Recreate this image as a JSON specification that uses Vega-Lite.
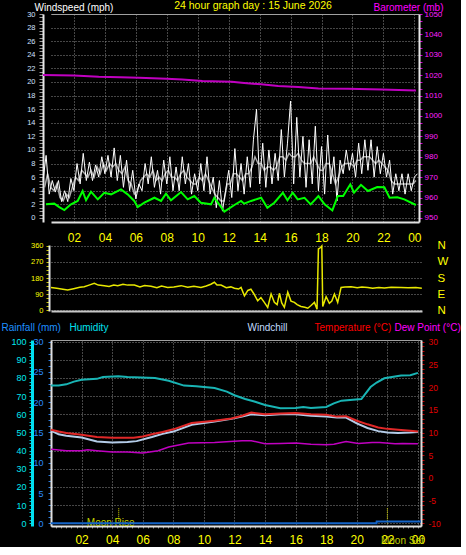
{
  "$schema": "https://vega.github.io/schema/vega-lite/v6.json",
  "background": "#000000",
  "padding": {"left": 0, "top": 0, "right": 0, "bottom": 0},
  "datasets": {
    "gust": [
      {"h":0,"v":5.5},{"h":0.2,"v":9.2},{"h":0.4,"v":3.5},{"h":0.6,"v":5.5},{"h":0.8,"v":3.8},{"h":1.0,"v":5.5},{"h":1.2,"v":2.4},{"h":1.4,"v":4.0},{"h":1.6,"v":2.4},{"h":1.8,"v":5.8},
      {"h":2.0,"v":4.0},{"h":2.2,"v":8.0},{"h":2.4,"v":5.0},{"h":2.6,"v":9.5},{"h":2.8,"v":5.5},{"h":3.0,"v":8.2},{"h":3.2,"v":5.5},{"h":3.4,"v":7.8},{"h":3.6,"v":6.0},{"h":3.8,"v":9.0},
      {"h":4.0,"v":6.5},{"h":4.2,"v":9.2},{"h":4.4,"v":6.0},{"h":4.6,"v":10.3},{"h":4.8,"v":5.5},{"h":5.0,"v":9.2},{"h":5.2,"v":4.5},{"h":5.4,"v":8.5},{"h":5.6,"v":4.0},{"h":5.8,"v":7.0},
      {"h":6.0,"v":2.8},{"h":6.2,"v":5.0},{"h":6.4,"v":4.0},{"h":6.6,"v":8.0},{"h":6.8,"v":5.0},{"h":7.0,"v":9.0},{"h":7.2,"v":4.5},{"h":7.4,"v":7.0},{"h":7.6,"v":3.5},{"h":7.8,"v":8.5},
      {"h":8.0,"v":5.0},{"h":8.2,"v":9.0},{"h":8.4,"v":4.0},{"h":8.6,"v":7.5},{"h":8.8,"v":4.0},{"h":9.0,"v":9.0},{"h":9.2,"v":5.0},{"h":9.4,"v":8.0},{"h":9.6,"v":3.5},{"h":9.8,"v":6.5},
      {"h":10.0,"v":4.0},{"h":10.2,"v":8.0},{"h":10.4,"v":4.0},{"h":10.6,"v":9.0},{"h":10.8,"v":3.5},{"h":11.0,"v":6.0},{"h":11.2,"v":1.5},{"h":11.4,"v":5.5},{"h":11.6,"v":1.0},{"h":11.8,"v":4.0},
      {"h":12.0,"v":7.0},{"h":12.2,"v":3.0},{"h":12.4,"v":10.2},{"h":12.6,"v":4.0},{"h":12.8,"v":8.0},{"h":13.0,"v":3.5},{"h":13.2,"v":9.0},{"h":13.4,"v":4.5},{"h":13.6,"v":11.5},{"h":13.8,"v":16.0},
      {"h":14.0,"v":5.0},{"h":14.2,"v":11.0},{"h":14.4,"v":4.5},{"h":14.6,"v":10.0},{"h":14.8,"v":5.0},{"h":15.0,"v":9.5},{"h":15.2,"v":5.5},{"h":15.4,"v":13.0},{"h":15.6,"v":6.0},{"h":15.8,"v":11.0},
      {"h":16.0,"v":17.2},{"h":16.2,"v":5.0},{"h":16.4,"v":14.8},{"h":16.6,"v":6.0},{"h":16.8,"v":12.0},{"h":17.0,"v":4.5},{"h":17.2,"v":11.5},{"h":17.4,"v":5.0},{"h":17.6,"v":13.5},{"h":17.8,"v":4.0},
      {"h":18.0,"v":10.5},{"h":18.2,"v":3.5},{"h":18.4,"v":12.2},{"h":18.6,"v":5.0},{"h":18.8,"v":9.0},{"h":19.0,"v":2.5},{"h":19.2,"v":8.5},{"h":19.4,"v":6.5},{"h":19.6,"v":10.0},{"h":19.8,"v":7.0},
      {"h":20.0,"v":9.5},{"h":20.2,"v":6.0},{"h":20.4,"v":11.0},{"h":20.6,"v":6.5},{"h":20.8,"v":11.5},{"h":21.0,"v":7.0},{"h":21.2,"v":11.5},{"h":21.4,"v":6.0},{"h":21.6,"v":10.5},{"h":21.8,"v":6.5},
      {"h":22.0,"v":9.5},{"h":22.2,"v":6.0},{"h":22.4,"v":8.5},{"h":22.6,"v":3.5},{"h":22.8,"v":6.5},{"h":23.0,"v":4.0},{"h":23.2,"v":6.5},{"h":23.4,"v":3.5},{"h":23.6,"v":6.5},{"h":23.8,"v":4.0},
      {"h":24.0,"v":6.0},{"h":24.2,"v":6.5}
    ],
    "speed": [
      {"h":0.1,"v":4.5},{"h":0.3,"v":6.5},{"h":0.5,"v":4.5},{"h":0.7,"v":4.0},{"h":0.9,"v":5.0},{"h":1.1,"v":3.0},{"h":1.3,"v":2.5},{"h":1.5,"v":3.5},{"h":1.7,"v":3.0},{"h":1.9,"v":4.5},
      {"h":2.1,"v":6.0},{"h":2.3,"v":5.5},{"h":2.5,"v":7.0},{"h":2.7,"v":6.5},{"h":2.9,"v":6.0},{"h":3.1,"v":7.0},{"h":3.3,"v":6.0},{"h":3.5,"v":7.5},{"h":3.7,"v":6.5},{"h":3.9,"v":8.0},
      {"h":4.1,"v":7.0},{"h":4.3,"v":8.0},{"h":4.5,"v":7.5},{"h":4.7,"v":8.0},{"h":4.9,"v":7.0},{"h":5.1,"v":6.5},{"h":5.3,"v":7.5},{"h":5.5,"v":5.5},{"h":5.7,"v":5.0},{"h":5.9,"v":3.5},
      {"h":6.1,"v":4.0},{"h":6.3,"v":5.5},{"h":6.5,"v":6.0},{"h":6.7,"v":6.5},{"h":6.9,"v":6.0},{"h":7.1,"v":7.0},{"h":7.3,"v":5.5},{"h":7.5,"v":6.0},{"h":7.7,"v":5.5},{"h":7.9,"v":6.5},
      {"h":8.1,"v":7.0},{"h":8.3,"v":6.0},{"h":8.5,"v":6.0},{"h":8.7,"v":5.5},{"h":8.9,"v":6.5},{"h":9.1,"v":7.0},{"h":9.3,"v":6.0},{"h":9.5,"v":5.5},{"h":9.7,"v":5.0},{"h":9.9,"v":5.0},
      {"h":10.1,"v":6.0},{"h":10.3,"v":5.5},{"h":10.5,"v":6.5},{"h":10.7,"v":5.5},{"h":10.9,"v":4.5},{"h":11.1,"v":3.5},{"h":11.3,"v":3.0},{"h":11.5,"v":2.5},{"h":11.7,"v":2.5},{"h":11.9,"v":5.0},
      {"h":12.1,"v":5.0},{"h":12.3,"v":6.5},{"h":12.5,"v":6.5},{"h":12.7,"v":6.0},{"h":12.9,"v":5.5},{"h":13.1,"v":6.5},{"h":13.3,"v":6.5},{"h":13.5,"v":7.5},{"h":13.7,"v":9.0},{"h":13.9,"v":8.0},
      {"h":14.1,"v":8.0},{"h":14.3,"v":7.0},{"h":14.5,"v":7.5},{"h":14.7,"v":7.5},{"h":14.9,"v":7.0},{"h":15.1,"v":7.5},{"h":15.3,"v":9.0},{"h":15.5,"v":9.0},{"h":15.7,"v":8.5},{"h":15.9,"v":9.5},
      {"h":16.1,"v":9.0},{"h":16.3,"v":9.0},{"h":16.5,"v":9.5},{"h":16.7,"v":8.5},{"h":16.9,"v":8.0},{"h":17.1,"v":8.0},{"h":17.3,"v":8.0},{"h":17.5,"v":9.0},{"h":17.7,"v":8.0},{"h":17.9,"v":7.0},
      {"h":18.1,"v":7.0},{"h":18.3,"v":8.0},{"h":18.5,"v":8.0},{"h":18.7,"v":6.5},{"h":18.9,"v":5.0},{"h":19.1,"v":6.0},{"h":19.3,"v":7.5},{"h":19.5,"v":8.0},{"h":19.7,"v":8.0},{"h":19.9,"v":8.0},
      {"h":20.1,"v":7.5},{"h":20.3,"v":8.5},{"h":20.5,"v":8.5},{"h":20.7,"v":9.0},{"h":20.9,"v":9.0},{"h":21.1,"v":9.0},{"h":21.3,"v":8.5},{"h":21.5,"v":8.0},{"h":21.7,"v":8.5},{"h":21.9,"v":8.0},
      {"h":22.1,"v":7.5},{"h":22.3,"v":7.0},{"h":22.5,"v":5.5},{"h":22.7,"v":5.0},{"h":22.9,"v":5.0},{"h":23.1,"v":5.0},{"h":23.3,"v":5.0},{"h":23.5,"v":5.0},{"h":23.7,"v":5.0},{"h":23.9,"v":5.0},{"h":24.1,"v":5.5}
    ],
    "avg": [
      {"h":0.19,"v":2.0},{"h":0.73,"v":2.1},{"h":1.05,"v":1.6},{"h":1.38,"v":1.16},{"h":1.81,"v":2.0},{"h":2.24,"v":2.5},{"h":2.56,"v":3.96},{"h":2.78,"v":2.6},{"h":3.1,"v":3.86},{"h":3.54,"v":2.73},
      {"h":3.96,"v":3.7},{"h":4.4,"v":3.47},{"h":5.04,"v":4.2},{"h":5.47,"v":3.47},{"h":5.9,"v":2.5},{"h":6.12,"v":1.6},{"h":6.55,"v":2.24},{"h":7.2,"v":2.97},{"h":7.63,"v":2.5},{"h":7.95,"v":3.56},
      {"h":8.27,"v":2.6},{"h":8.92,"v":3.8},{"h":9.35,"v":2.73},{"h":9.78,"v":3.22},{"h":10.2,"v":2.24},{"h":10.86,"v":2.0},{"h":11.07,"v":2.97},{"h":11.72,"v":0.92},{"h":12.37,"v":1.9},{"h":12.8,"v":2.5},
      {"h":13.0,"v":2.1},{"h":13.45,"v":2.5},{"h":14.1,"v":2.97},{"h":14.5,"v":1.5},{"h":14.95,"v":2.24},{"h":15.5,"v":3.7},{"h":15.8,"v":2.6},{"h":16.14,"v":3.7},{"h":16.46,"v":2.73},{"h":16.9,"v":2.97},
      {"h":17.3,"v":2.0},{"h":17.8,"v":3.22},{"h":18.2,"v":2.0},{"h":18.7,"v":1.1},{"h":19.05,"v":3.22},{"h":19.4,"v":3.22},{"h":19.86,"v":4.94},{"h":20.1,"v":3.7},{"h":20.55,"v":4.87},{"h":21.0,"v":3.96},
      {"h":21.6,"v":4.55},{"h":22.06,"v":4.5},{"h":22.4,"v":2.97},{"h":22.9,"v":3.05},{"h":23.35,"v":2.73},{"h":24.1,"v":1.9}
    ],
    "baro": [
      {"h":0,"p":1020.1},{"h":1,"p":1020.0},{"h":2,"p":1019.8},{"h":3.6,"p":1019.2},{"h":5,"p":1019.0},{"h":6.2,"p":1018.7},{"h":8,"p":1018.3},{"h":9,"p":1017.9},{"h":10.3,"p":1017.1},{"h":12.2,"p":1016.8},
      {"h":13,"p":1016.2},{"h":14.1,"p":1015.5},{"h":15.2,"p":1014.7},{"h":16.5,"p":1014.2},{"h":17.8,"p":1013.5},{"h":19.7,"p":1013.3},{"h":21.9,"p":1013.0},{"h":24.1,"p":1012.5}
    ],
    "dir": [
      {"h":0.13,"d":127},{"h":0.5,"d":122},{"h":0.8,"d":118},{"h":1.21,"d":112},{"h":1.6,"d":120},{"h":2.0,"d":128},{"h":2.29,"d":131},{"h":2.6,"d":140},{"h":2.94,"d":150},{"h":3.2,"d":140},
      {"h":3.59,"d":137},{"h":3.9,"d":132},{"h":4.2,"d":140},{"h":4.46,"d":137},{"h":4.8,"d":145},{"h":5.1,"d":140},{"h":5.54,"d":141},{"h":5.9,"d":130},{"h":6.2,"d":138},{"h":6.62,"d":133},
      {"h":7.0,"d":125},{"h":7.3,"d":135},{"h":7.7,"d":127},{"h":8.1,"d":130},{"h":8.57,"d":137},{"h":9.0,"d":128},{"h":9.4,"d":133},{"h":9.86,"d":127},{"h":10.2,"d":135},{"h":10.5,"d":145},
      {"h":10.73,"d":156},{"h":10.9,"d":140},{"h":11.16,"d":140},{"h":11.5,"d":125},{"h":11.8,"d":130},{"h":12.03,"d":122},{"h":12.3,"d":118},{"h":12.46,"d":127},{"h":12.68,"d":80},{"h":12.9,"d":110},
      {"h":13.1,"d":117},{"h":13.3,"d":90},{"h":13.54,"d":52},{"h":13.75,"d":70},{"h":13.97,"d":43},{"h":14.19,"d":15},{"h":14.41,"d":90},{"h":14.62,"d":43},{"h":14.8,"d":30},{"h":14.95,"d":94},
      {"h":15.1,"d":40},{"h":15.27,"d":15},{"h":15.49,"d":100},{"h":15.7,"d":50},{"h":15.92,"d":43},{"h":16.1,"d":30},{"h":16.35,"d":20},{"h":16.6,"d":15},{"h":16.79,"d":10},{"h":17.0,"d":25},
      {"h":17.22,"d":43},{"h":17.39,"d":5},{"h":17.48,"d":343},{"h":17.6,"d":350},{"h":17.7,"d":360},{"h":17.76,"d":20},{"h":17.98,"d":75},{"h":18.19,"d":38},{"h":18.35,"d":50},{"h":18.52,"d":90},
      {"h":18.73,"d":43},{"h":18.95,"d":127},{"h":19.2,"d":130},{"h":19.6,"d":131},{"h":20.0,"d":125},{"h":20.3,"d":130},{"h":20.68,"d":127},{"h":21.0,"d":122},{"h":21.4,"d":126},{"h":21.76,"d":124},
      {"h":22.2,"d":128},{"h":22.84,"d":127},{"h":23.3,"d":125},{"h":23.8,"d":126},{"h":24.19,"d":122}
    ],
    "hum": [
      {"h":0,"v":75.8},{"h":0.5,"v":75.8},{"h":1.0,"v":76.5},{"h":1.5,"v":78},{"h":2.0,"v":79},{"h":3.0,"v":79.5},{"h":3.4,"v":80.5},{"h":4.4,"v":81},{"h":5.0,"v":80.5},{"h":6.8,"v":80},
      {"h":7.7,"v":78.5},{"h":8.7,"v":75.8},{"h":9.5,"v":75.5},{"h":10.7,"v":74.5},{"h":11.5,"v":72.5},{"h":12.0,"v":70.5},{"h":12.7,"v":68.4},{"h":13.3,"v":67},{"h":14.0,"v":65.1},{"h":15.0,"v":63.3},
      {"h":16.0,"v":63.5},{"h":16.5,"v":64},{"h":17.0,"v":63.5},{"h":18.0,"v":64},{"h":18.5,"v":66},{"h":19.0,"v":67.5},{"h":20.3,"v":68.4},{"h":20.9,"v":75},{"h":21.3,"v":77.5},{"h":21.8,"v":79.8},
      {"h":22.9,"v":81.3},{"h":23.5,"v":81.5},{"h":24.0,"v":82.8}
    ],
    "temp": [
      {"h":0,"v":10.6},{"h":0.5,"v":10.2},{"h":1.0,"v":9.9},{"h":2.0,"v":9.5},{"h":3.0,"v":9.0},{"h":4.0,"v":8.85},{"h":5.4,"v":8.85},{"h":6.0,"v":9.1},{"h":6.6,"v":9.6},{"h":7.3,"v":10.1},
      {"h":8.0,"v":10.7},{"h":9.2,"v":12.1},{"h":10.7,"v":12.6},{"h":11.8,"v":13.1},{"h":12.5,"v":13.7},{"h":13.1,"v":14.4},{"h":14.0,"v":14.0},{"h":15.0,"v":14.2},{"h":16.0,"v":14.3},{"h":17.0,"v":14.0},
      {"h":18.0,"v":13.9},{"h":18.7,"v":13.5},{"h":19.3,"v":13.6},{"h":20.0,"v":12.6},{"h":20.7,"v":11.8},{"h":21.4,"v":11.1},{"h":22.0,"v":10.8},{"h":22.7,"v":10.6},{"h":23.5,"v":10.4},{"h":24.0,"v":10.2}
    ],
    "chill": [
      {"h":0,"v":10.4},{"h":0.5,"v":9.6},{"h":1.0,"v":9.3},{"h":2.0,"v":8.9},{"h":3.0,"v":8.0},{"h":4.0,"v":7.8},{"h":5.0,"v":7.9},{"h":5.6,"v":8.1},{"h":6.6,"v":9.0},{"h":7.3,"v":9.7},
      {"h":8.0,"v":10.2},{"h":9.2,"v":11.7},{"h":10.7,"v":12.4},{"h":11.8,"v":13.0},{"h":12.5,"v":13.5},{"h":13.1,"v":14.0},{"h":14.0,"v":13.8},{"h":15.0,"v":14.0},{"h":16.0,"v":14.0},{"h":17.0,"v":13.7},
      {"h":18.0,"v":13.5},{"h":18.7,"v":13.3},{"h":19.3,"v":13.3},{"h":20.0,"v":12.0},{"h":20.7,"v":11.0},{"h":21.4,"v":10.3},{"h":22.0,"v":10.0},{"h":22.7,"v":9.9},{"h":23.5,"v":10.0},{"h":24.0,"v":10.1}
    ],
    "dew": [
      {"h":0,"v":6.3},{"h":1.0,"v":6.0},{"h":2.0,"v":6.0},{"h":2.4,"v":6.2},{"h":3.0,"v":6.0},{"h":4.0,"v":5.7},{"h":5.0,"v":5.7},{"h":6.0,"v":5.5},{"h":7.0,"v":6.0},{"h":7.7,"v":6.8},
      {"h":9.0,"v":7.7},{"h":10.7,"v":7.8},{"h":12.5,"v":8.2},{"h":13.1,"v":8.2},{"h":14.0,"v":7.5},{"h":15.0,"v":7.6},{"h":16.0,"v":7.7},{"h":17.0,"v":7.4},{"h":18.0,"v":7.3},{"h":18.5,"v":7.4},
      {"h":19.3,"v":8.0},{"h":20.1,"v":7.6},{"h":21.0,"v":7.8},{"h":21.5,"v":7.8},{"h":22.5,"v":7.5},{"h":23.0,"v":7.6},{"h":24.0,"v":7.5}
    ],
    "rain": [
      {"h":0,"v":0},{"h":21.29,"v":0},{"h":21.3,"v":0.3},{"h":24.2,"v":0.3}
    ],
    "moon": [
      {"event":"Moon Rise","h":4.43},
      {"event":"Moon Set","h":22.0}
    ]
  },
  "concat": [
    {
      "width": 368,
      "height": 208,
      "view": {"stroke": null},
      "title": {"text": "24 hour graph day : 15 June 2026", "color": "#ffff00", "fontSize": 10.5, "font": "Liberation Sans", "fontWeight": "normal", "anchor": "middle", "dx": 18, "offset": -9},
      "layer": [
        {
          "layer": [
            {
              "data": {"name": "speed"},
              "mark": {"type": "line", "color": "#a8a8a8", "strokeWidth": 1.5},
              "encoding": {
                "x": {"field": "h", "type": "quantitative", "scale": {"domain": [0.517, 24.3], "nice": false, "zero": false},
                  "axis": {"values": [2,4,6,8,10,12,14,16,18,20,22,24], "tickCount": 100, "labelExpr": "datum.value == 24 ? '00' : (datum.value < 10 ? '0' + datum.value : '' + datum.value)", "labelColor": "#ffff00", "labelFontSize": 12, "ticks": false, "labelPadding": 10, "grid": true, "title": null, "domainColor": "#e0e0e0", "domainWidth": 2}},
                "y": {"field": "v", "type": "quantitative", "scale": {"domain": [-0.6, 30], "nice": false, "zero": false},
                  "axis": {"offset": 8, "values": [0,0.5,1,1.5,2,2.5,3,3.5,4,4.5,5,5.5,6,6.5,7,7.5,8,8.5,9,9.5,10,10.5,11,11.5,12,12.5,13,13.5,14,14.5,15,15.5,16,16.5,17,17.5,18,18.5,19,19.5,20,20.5,21,21.5,22,22.5,23,23.5,24,24.5,25,25.5,26,26.5,27,27.5,28,28.5,29,29.5,30], "tickCount": 100,
                    "labelExpr": "datum.value % 2 == 0 ? '' + datum.value : ''", "gridOpacity": {"condition": {"test": "datum.value % 2 == 0", "value": 1}, "value": 0},
                    "labelFontSize": 7.5, "labelColor": "#d0e0ff", "tickColor": "#9a9a9a", "tickSize": 4, "labelPadding": 4, "grid": true, "domainColor": "#e8e8e8", "domainWidth": 2,
                    "title": "Windspeed (mph)", "titleColor": "#ffffff", "titleFontSize": 10, "titleAngle": 0, "titleAlign": "left", "titleBaseline": "alphabetic", "titleX": -9, "titleY": -4}}
              }
            },
            {
              "data": {"name": "gust"},
              "mark": {"type": "line", "color": "#ffffff", "strokeWidth": 1},
              "encoding": {"x": {"field": "h", "type": "quantitative"}, "y": {"field": "v", "type": "quantitative"}}
            },
            {
              "data": {"name": "avg"},
              "mark": {"type": "line", "color": "#00ff00", "strokeWidth": 2},
              "encoding": {"x": {"field": "h", "type": "quantitative"}, "y": {"field": "v", "type": "quantitative"}}
            }
          ]
        },
        {
          "data": {"name": "baro"},
          "mark": {"type": "line", "color": "#c000c0", "strokeWidth": 2},
          "encoding": {
            "x": {"field": "h", "type": "quantitative", "scale": {"domain": [0.517, 24.3], "nice": false, "zero": false},
              "axis": {"orient": "top", "labels": false, "ticks": false, "grid": false, "title": null, "domainColor": "#a0a0a0", "domainWidth": 1, "minExtent": 0, "maxExtent": 0}},
            "y": {"field": "p", "type": "quantitative", "scale": {"domain": [948, 1050], "nice": false, "zero": false},
              "axis": {"orient": "right", "values": [950,953.33,956.67,960,963.33,966.67,970,973.33,976.67,980,983.33,986.67,990,993.33,996.67,1000,1003.33,1006.67,1010,1013.33,1016.67,1020,1023.33,1026.67,1030,1033.33,1036.67,1040,1043.33,1046.67,1050], "tickCount": 100,
                "labelExpr": "abs(datum.value - round(datum.value / 10) * 10) < 0.1 ? format(datum.value, 'd') : ''",
                "labelFontSize": 8, "labelColor": "#ff20ff", "tickColor": "#d000d0", "tickSize": 3, "labelPadding": 2, "grid": false, "domainColor": "#e8e8e8", "domainWidth": 2,
                "title": "Barometer (mb)", "titleColor": "#ff00ff", "titleFontSize": 10, "titleAngle": 0, "titleAlign": "left", "titleBaseline": "alphabetic", "titleX": -46, "titleY": -4}}
          }
        }
      ],
      "resolve": {"scale": {"y": "independent", "x": "independent"}}
    },
    {
      "concat": [
        {
          "width": 371,
          "height": 66,
          "view": {"stroke": null},
          "data": {"name": "dir"},
          "layer": [
            {
              "mark": {"type": "line", "color": "#e8e800", "strokeWidth": 1.5},
              "encoding": {
                "x": {"field": "h", "type": "quantitative", "scale": {"domain": [0.13, 24.2], "nice": false, "zero": false},
                  "axis": {"labels": false, "ticks": false, "grid": false, "title": null, "domainColor": "#c8c8c8", "domainWidth": 2}},
                "y": {"field": "d", "type": "quantitative", "scale": {"domain": [-5.6, 365.6], "nice": false, "zero": false},
                  "axis": {"orient": "left", "offset": 2, "values": [0,22.5,45,67.5,90,112.5,135,157.5,180,202.5,225,247.5,270,292.5,315,337.5,360], "tickCount": 100,
                    "labelExpr": "datum.value % 90 == 0 ? '' + datum.value : ''", "gridOpacity": {"condition": {"test": "datum.value % 90 == 0", "value": 1}, "value": 0},
                    "labelFontSize": 7.5, "labelColor": "#ffff00", "tickColor": "#c8c800", "tickSize": 3, "labelPadding": 3, "grid": true, "domainColor": "#e8e8e8", "domainWidth": 2, "title": null}}
              }
            },
            {
              "mark": {"type": "line", "opacity": 0},
              "encoding": {
                "x": {"field": "h", "type": "quantitative"},
                "y": {"field": "d", "type": "quantitative", "scale": {"domain": [-5.6, 365.6], "nice": false, "zero": false},
                  "axis": {"orient": "right", "values": [0,90,180,270,360], "tickCount": 100, "labelExpr": "datum.value == 90 ? 'E' : (datum.value == 180 ? 'S' : (datum.value == 270 ? 'W' : 'N'))", "labelFontSize": 11.5, "labelColor": "#ffff00", "ticks": false, "domain": false, "grid": false, "labelPadding": 15, "title": null}}
              }
            }
          ],
          "resolve": {"scale": {"y": "independent"}}
        },
        {
          "width": 370,
          "height": 186,
          "layer": [
            {
              "layer": [
                {
                  "data": {"name": "hum"},
                  "mark": {"type": "line", "color": "#19b4b4", "strokeWidth": 2},
                  "encoding": {
                    "x": {"field": "h", "type": "quantitative", "scale": {"domain": [0, 24.2], "nice": false, "zero": false},
                      "axis": {"values": [0.33,0.67,1,1.33,1.67,2,2.33,2.67,3,3.33,3.67,4,4.33,4.67,5,5.33,5.67,6,6.33,6.67,7,7.33,7.67,8,8.33,8.67,9,9.33,9.67,10,10.33,10.67,11,11.33,11.67,12,12.33,12.67,13,13.33,13.67,14,14.33,14.67,15,15.33,15.67,16,16.33,16.67,17,17.33,17.67,18,18.33,18.67,19,19.33,19.67,20,20.33,20.67,21,21.33,21.67,22,22.33,22.67,23,23.33,23.67,24], "tickCount": 100,
                        "labelExpr": "datum.value % 2 == 0 ? (datum.value == 24 ? '00' : (datum.value < 10 ? '0' + datum.value : '' + datum.value)) : ''",
                        "gridOpacity": {"condition": {"test": "datum.value % 2 == 0", "value": 1}, "value": 0},
                        "labelColor": "#ffff00", "labelFontSize": 12, "ticks": true, "tickSize": 2, "tickColor": "#8a8a8a", "labelPadding": 6, "grid": true, "title": null, "domainColor": "#e0e0e0", "domainWidth": 2}},
                    "y": {"field": "v", "type": "quantitative", "scale": {"domain": [-1.5, 100.9], "nice": false, "zero": false},
                      "axis": {"orient": "left", "offset": 19, "values": [0,2,4,6,8,10,12,14,16,18,20,22,24,26,28,30,32,34,36,38,40,42,44,46,48,50,52,54,56,58,60,62,64,66,68,70,72,74,76,78,80,82,84,86,88,90,92,94,96,98,100], "tickCount": 100,
                        "labelExpr": "datum.value % 10 == 0 ? '' + datum.value : ''", "gridOpacity": {"condition": {"test": "datum.value % 10 == 0", "value": 1}, "value": 0},
                        "labelFontSize": 9, "labelColor": "#00e8f0", "tickColor": "#00c8d0", "tickSize": 3, "labelPadding": 3, "grid": true, "domainColor": "#00e0f0", "domainWidth": 3,
                        "title": "Humidity", "titleColor": "#00e0f0", "titleFontSize": 10, "titleAngle": 0, "titleAlign": "left", "titleBaseline": "alphabetic", "titleX": 37, "titleY": -10}}
                  }
                },
                {
                  "data": {"name": "moon"},
                  "mark": {"type": "rule", "color": "#e0e000", "strokeDash": [1, 1], "strokeWidth": 1},
                  "encoding": {"x": {"field": "h", "type": "quantitative"}, "y": {"datum": 0}, "y2": {"datum": 8.5}}
                },
                {
                  "data": {"name": "moon"},
                  "transform": [{"filter": "datum.event == 'Moon Rise'"}],
                  "mark": {"type": "text", "color": "#c0d000", "fontSize": 10, "font": "Liberation Sans", "baseline": "middle", "align": "center", "dx": -8},
                  "encoding": {"x": {"field": "h", "type": "quantitative"}, "y": {"datum": 0.4}, "text": {"field": "event"}}
                },
                {
                  "data": {"name": "moon"},
                  "transform": [{"filter": "datum.event == 'Moon Set'"}],
                  "mark": {"type": "text", "color": "#c0d000", "fontSize": 10, "font": "Liberation Sans", "baseline": "middle", "align": "center", "dx": 15},
                  "encoding": {"x": {"field": "h", "type": "quantitative"}, "y": {"datum": -9.7}, "text": {"field": "event"}}
                }
              ]
            },
            {
              "data": {"name": "rain"},
              "mark": {"type": "line", "color": "#1464c8", "strokeWidth": 2},
              "encoding": {
                "x": {"field": "h", "type": "quantitative"},
                "y": {"field": "v", "type": "quantitative", "scale": {"domain": [-0.45, 30.28], "nice": false, "zero": false},
                  "axis": {"orient": "left", "offset": 0, "values": [0,1,2,3,4,5,6,7,8,9,10,11,12,13,14,15,16,17,18,19,20,21,22,23,24,25,26,27,28,29,30], "tickCount": 100,
                    "labelExpr": "datum.value % 5 == 0 ? '' + datum.value : ''",
                    "labelFontSize": 9, "labelColor": "#2a8cff", "tickColor": "#2a7ce0", "tickSize": 3, "labelPadding": 5, "grid": false, "domainColor": "#e0e0e0", "domainWidth": 2,
                    "title": "Rainfall (mm)", "titleColor": "#1e90ff", "titleFontSize": 10, "titleAngle": 0, "titleAlign": "left", "titleBaseline": "alphabetic", "titleX": -50, "titleY": -10}}
              }
            },
            {
              "data": {"name": "chill"},
              "mark": {"type": "line", "color": "#b4cce8", "strokeWidth": 2},
              "encoding": {
                "x": {"field": "h", "type": "quantitative"},
                "y": {"field": "v", "type": "quantitative", "scale": {"domain": [-10.6, 30.38], "nice": false, "zero": false},
                  "axis": {"orient": "right", "labels": false, "ticks": false, "domain": false, "grid": false,
                    "title": "Windchill", "titleColor": "#c0dcff", "titleFontSize": 10, "titleAngle": 0, "titleAlign": "left", "titleBaseline": "alphabetic", "titleX": -174, "titleY": -10}}
              }
            },
            {
              "data": {"name": "temp"},
              "mark": {"type": "line", "color": "#e02828", "strokeWidth": 2},
              "encoding": {
                "x": {"field": "h", "type": "quantitative"},
                "y": {"field": "v", "type": "quantitative", "scale": {"domain": [-10.6, 30.38], "nice": false, "zero": false},
                  "axis": {"orient": "right", "values": [-10,-9,-8,-7,-6,-5,-4,-3,-2,-1,0,1,2,3,4,5,6,7,8,9,10,11,12,13,14,15,16,17,18,19,20,21,22,23,24,25,26,27,28,29,30], "tickCount": 100,
                    "labelExpr": "datum.value % 5 == 0 ? '' + datum.value : ''",
                    "labelFontSize": 8.5, "labelColor": "#e00000", "tickColor": "#c00000", "tickSize": 3, "labelPadding": 4, "grid": false, "domainColor": "#e0e0e0", "domainWidth": 2,
                    "title": "Temperature (°C)", "titleColor": "#ff0000", "titleFontSize": 10, "titleAngle": 0, "titleAlign": "left", "titleBaseline": "alphabetic", "titleX": -107, "titleY": -10}}
              }
            },
            {
              "data": {"name": "dew"},
              "mark": {"type": "line", "color": "#c000c0", "strokeWidth": 1.5},
              "encoding": {
                "x": {"field": "h", "type": "quantitative"},
                "y": {"field": "v", "type": "quantitative", "scale": {"domain": [-10.6, 30.38], "nice": false, "zero": false},
                  "axis": {"orient": "right", "labels": false, "ticks": false, "domain": false, "grid": false,
                    "title": "Dew Point (°C)", "titleColor": "#ff00ff", "titleFontSize": 10, "titleAngle": 0, "titleAlign": "left", "titleBaseline": "alphabetic", "titleX": -27, "titleY": -10}}
              }
            }
          ],
          "resolve": {"scale": {"y": "independent"}}
        }
      ],
      "columns": 1,
      "align": "none",
      "spacing": 5
    }
  ],
  "columns": 1,
  "align": "none",
  "spacing": -4,
  "config": {
    "font": "Liberation Sans",
    "view": {"stroke": "#a0a0a0", "strokeWidth": 1},
    "axis": {"labelFont": "Liberation Sans", "titleFont": "Liberation Sans", "titleFontWeight": "normal", "gridColor": "#8c8c8c", "gridDash": [1, 2], "gridWidth": 1, "labelOverlap": false, "labelFlush": false, "labelBound": false}
  }
}
